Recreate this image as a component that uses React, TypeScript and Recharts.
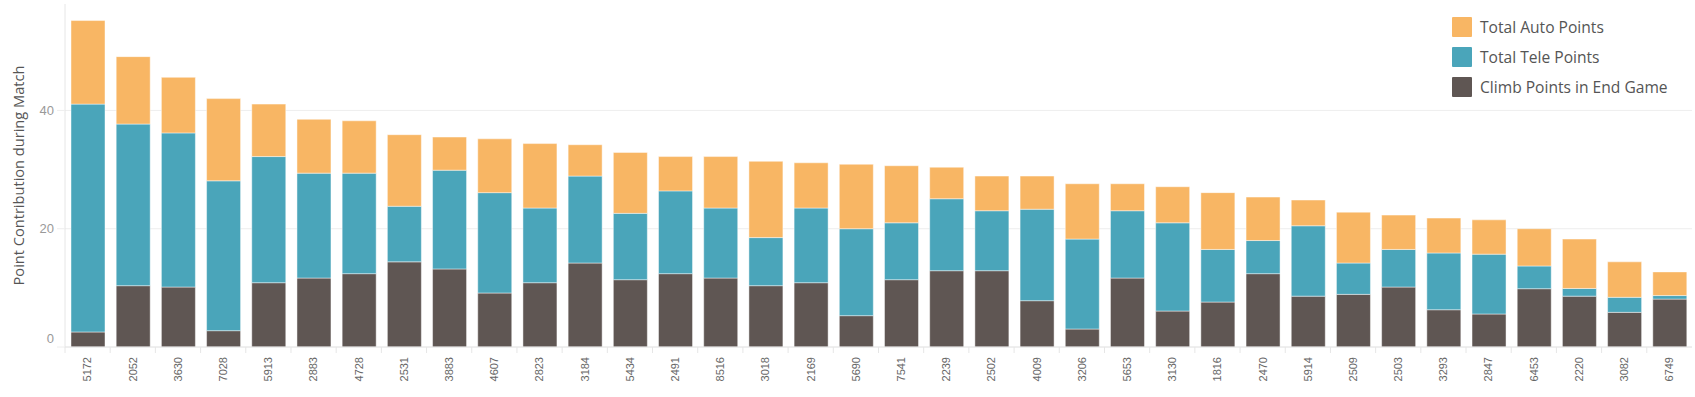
import React from "react";
import { BarChart, Bar, XAxis, YAxis, CartesianGrid, Legend } from "recharts";

const teams = [
  "5172", "2052", "3630", "7028", "5913", "2883", "4728", "2531", "3883", "4607",
  "2823", "3184", "5434", "2491", "8516", "3018", "2169", "5690", "7541", "2239",
  "2502", "4009", "3206", "5653", "3130", "1816", "2470", "5914", "2509", "2503",
  "3293", "2847", "6453", "2220", "3082", "6749",
];

const climbPoints = [
  2.54, 10.37, 10.14, 2.76, 10.87, 11.66, 12.4, 14.4, 13.2, 9.13,
  10.87, 14.2, 11.38, 12.4, 11.66, 10.37, 10.87, 5.3, 11.38, 12.9,
  12.9, 7.83, 3.04, 11.66, 6.08, 7.6, 12.4, 8.6, 8.9, 10.14,
  6.3, 5.58, 9.86, 8.6, 5.86, 8.1,
];

const telePoints = [
  38.53, 27.33, 26.06, 25.34, 21.33, 17.74, 17.0, 9.4, 16.7, 16.97,
  12.63, 14.7, 11.22, 14.0, 11.84, 8.13, 12.63, 14.7, 9.62, 12.17,
  10.14, 15.47, 15.21, 11.38, 14.92, 8.9, 5.6, 11.9, 5.3, 6.36,
  9.6, 10.12, 3.84, 1.3, 2.54, 0.6,
];

const autoPoints = [
  14.13, 11.4, 9.4, 13.9, 8.87, 9.1, 8.85, 12.1, 5.6, 9.1,
  10.9, 5.3, 10.3, 5.8, 8.7, 12.9, 7.65, 10.9, 9.65, 5.33,
  5.86, 5.6, 9.35, 4.56, 6.1, 9.6, 7.35, 4.35, 8.6, 5.8,
  5.9, 5.8, 6.3, 8.35, 6.0, 4.0,
];

const yTicks = [0, 20, 40];
const yDomain = [0, 58];

const seriesNames = {
  auto: "Total Auto Points",
  tele: "Total Tele Points",
  climb: "Climb Points in End Game",
};
const seriesColors = {
  auto: "#F8B664",
  tele: "#4AA5BA",
  climb: "#5F5653",
};
const legendOrder: Array<"auto" | "tele" | "climb"> = ["auto", "tele", "climb"];

const data = teams.map((team, i) => ({
  team,
  climb: climbPoints[i],
  tele: telePoints[i],
  auto: autoPoints[i],
}));

const CHART_W = 1695;
const CHART_H = 397;
const MARGIN = { top: 4, right: 3, left: 0, bottom: 0 };
const Y_AXIS_W = 65;
const BAND = (CHART_W - MARGIN.left - MARGIN.right - Y_AXIS_W) / teams.length;

const XTick = (props: any) => {
  const { x, y, payload } = props;
  return (
    <g>
      <line x1={x - BAND / 2} x2={x - BAND / 2} y1={y - 8} y2={y - 2} stroke="#e6e6e6" strokeWidth={1} />
      <g transform={`translate(${x},${y + 2})`}>
        <text
          transform="rotate(-90)"
          textAnchor="end"
          dy="0.35em"
          fontFamily="'Liberation Sans', Arial, sans-serif"
          fontSize={11}
          fill="#666"
        >
          {payload.value}
        </text>
      </g>
    </g>
  );
};

const YTick = (props: any) => {
  const { x, y, payload } = props;
  const shift = payload.value === 0 ? -9 : 0;
  return (
    <text
      x={x}
      y={y + shift}
      dy="0.35em"
      textAnchor="end"
      fontFamily="'Liberation Sans', Arial, sans-serif"
      fontSize={13}
      fill="#999"
    >
      {payload.value}
    </text>
  );
};

const YLabel = (props: any) => {
  const vb = props.viewBox || { x: 0, y: 0, width: 0, height: 0 };
  const cx = vb.x + 19;
  const cy = vb.y + vb.height / 2;
  return (
    <text
      transform={`translate(${cx},${cy}) rotate(-90)`}
      textAnchor="middle"
      dy="0.35em"
      fontFamily="'Open Sans', sans-serif"
      fontSize={14.6}
      fill="#555"
    >
      Point Contribution during Match
    </text>
  );
};

const LegendContent = () => (
  <div style={{ display: "flex", flexDirection: "column" }}>
    {legendOrder.map((k) => (
      <div key={k} style={{ display: "flex", alignItems: "center", height: 30 }}>
        <div
          style={{
            width: 20,
            height: 20,
            background: seriesColors[k],
            borderRadius: 1,
            marginRight: 8,
          }}
        />
        <span
          style={{
            fontFamily: "'Open Sans', sans-serif",
            fontSize: 15.6,
            color: "#555",
            whiteSpace: "nowrap",
          }}
        >
          {seriesNames[k]}
        </span>
      </div>
    ))}
  </div>
);

export default function App() {
  return (
    <div style={{ position: "absolute", left: 0, top: 0, width: CHART_W, height: CHART_H, background: "#fff" }}>
      <BarChart width={CHART_W} height={CHART_H} data={data} margin={MARGIN} barSize={34}>
        <CartesianGrid vertical={false} horizontalValues={yTicks} stroke="#eeeeee" strokeWidth={1} />
        <XAxis
          dataKey="team"
          interval={0}
          height={50}
          axisLine={{ stroke: "#e6e6e6" }}
          tickLine={false}
          tick={<XTick />}
        />
        <YAxis
          width={Y_AXIS_W}
          domain={yDomain}
          ticks={yTicks}
          allowDataOverflow
          axisLine={{ stroke: "#e6e6e6" }}
          tickLine={{ stroke: "#eeeeee" }}
          tickSize={8}
          tickMargin={3}
          tick={<YTick />}
          label={<YLabel />}
        />
        <Legend
          layout="horizontal"
          verticalAlign="middle"
          align="center"
          wrapperStyle={{ top: 12, left: 1452, right: "auto", bottom: "auto", width: 243 }}
          content={<LegendContent />}
        />
        <Bar dataKey="climb" name={seriesNames.climb} stackId="a" fill={seriesColors.climb} stroke="#ffffff" strokeOpacity={0.45} strokeWidth={1} isAnimationActive={false} />
        <Bar dataKey="tele" name={seriesNames.tele} stackId="a" fill={seriesColors.tele} stroke="#ffffff" strokeOpacity={0.45} strokeWidth={1} isAnimationActive={false} />
        <Bar dataKey="auto" name={seriesNames.auto} stackId="a" fill={seriesColors.auto} stroke="#ffffff" strokeOpacity={0.45} strokeWidth={1} isAnimationActive={false} />
      </BarChart>
    </div>
  );
}
